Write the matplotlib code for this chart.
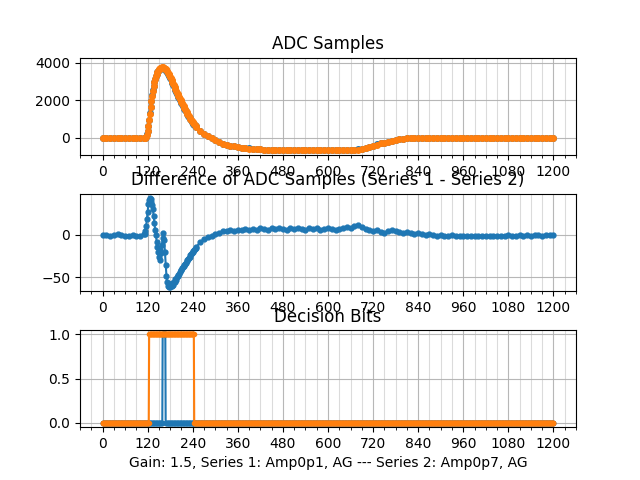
import numpy as np
import matplotlib
matplotlib.use("Agg")
import matplotlib.pyplot as plt
from matplotlib.ticker import MultipleLocator

# sample positions: coarse, dense around the pulse, coarse again
sample_x = np.r_[0:111:10, 112:251:2, 260:1201:10]

# series 2 ADC samples
adc_s2 = [0] * 12 + [
    0, 15, 60, 170, 360, 620, 930, 1270, 1620, 1950,
    2250, 2520, 2760, 2960, 3130, 3280, 3400, 3500, 3580, 3640,
    3685, 3715, 3735, 3745, 3745, 3735, 3715, 3685, 3645, 3595,
    3540, 3475, 3405, 3330, 3250, 3165, 3080, 2985, 2890, 2795,
    2700, 2600, 2500, 2410, 2320, 2235, 2150, 2070, 1990, 1915,
    1835, 1755, 1675, 1595, 1520, 1445, 1370, 1295, 1220, 1150,
    1085, 1020, 955, 890, 830, 780, 730, 680, 630, 580,
] + [
    390, 230, 100, -20, -130, -220, -300, -360, -410, -455,
    -490, -520, -545, -565, -585, -600, -612, -623, -632, -640,
    -646, -652, -657, -660, -662,
    -664, -664, -665, -664, -665, -664, -665, -664, -665, -664,
    -664, -665, -664, -665, -664,
    -660, -645, -615, -575, -525, -470, -410, -350, -295, -245,
    -195, -150, -110, -75, -40, -12, 0,
] + [0] * 38

# series 1 - series 2
adc_diff = [0, 0, -1, 0, 1, 0, -1, -1, 0, -1, -2, 1] + [
    1, 4, 10, 18, 27, 36, 41, 43, 42, 39,
    35, 30, 22, 14, 6, 0, -8, -14, -20, -26,
    -18, -30, -22, -12, -4, 2, -6, -20, -35, -48,
    -56, -60, -61, -59, -61, -58, -60, -57, -59, -55,
    -56, -52, -53, -50, -49, -47, -46, -44, -42, -41,
    -39, -38, -37, -35, -34, -33, -31, -30, -28, -27,
    -26, -24, -23, -22, -20, -19, -18, -17, -15, -14,
] + [
    -9, -5, -3, -2, 1, 2, 4, 4, 5, 4,
    6, 5, 7, 6, 7, 6, 8, 7, 6, 8,
    7, 8, 7, 6, 8, 7, 8, 7, 6, 8,
    7, 8, 6, 7, 8, 7, 6, 7, 8, 9,
    8, 10, 11, 9, 7, 5, 4, 5, 3, 2,
    4, 5, 4, 3, 2, 3, 2, 1, 2, 1,
    0, 1, 0, -1, 0, -1, -1, 0, -2, -1,
    -2, -1, -2, -2, -1, -2, -1, -2, -1, -2,
    -1, -1, 0, -1, -1, 0, -1, 0, -1, 0,
    0, -1, 0, 0, 0,
]

adc_s1 = np.array(adc_s2) + np.array(adc_diff)

# decision bits: runs of samples that are 1 (inclusive)
dec_x = np.arange(0, 1201)
dec1_high = [(160, 167)]
dec2_high = [(124, 243)]

dec1 = np.zeros(len(dec_x))
for a, b in dec1_high:
    dec1[a:b + 1] = 1
dec2 = np.zeros(len(dec_x))
for a, b in dec2_high:
    dec2[a:b + 1] = 1

fig, axs = plt.subplots(3, 1, figsize=(6.4, 4.8), dpi=100)
plt.subplots_adjust(hspace=0.4)

axs[0].plot(sample_x, adc_s1, '.-', ms=8, lw=2)
axs[0].plot(sample_x, adc_s2, '.-', ms=8, lw=2)
axs[0].set_title("ADC Samples")
axs[0].set_ylim(-900, 4270)

axs[1].plot(sample_x, adc_diff, '.-', ms=7)
axs[1].set_title("Difference of ADC Samples (Series 1 - Series 2)")

axs[2].plot(dec_x, dec1, '.-')
axs[2].plot(dec_x, dec2, '.-')
axs[2].set_title("Decision Bits")
axs[2].set_xlabel("Gain: 1.5, Series 1: Amp0p1, AG --- Series 2: Amp0p7, AG")

for ax in axs:
    ax.xaxis.set_major_locator(MultipleLocator(120))
    ax.xaxis.set_minor_locator(MultipleLocator(30))
    ax.grid(which='major', alpha=0.9)
    ax.grid(which='minor', alpha=0.45)

plt.savefig("out.png")
